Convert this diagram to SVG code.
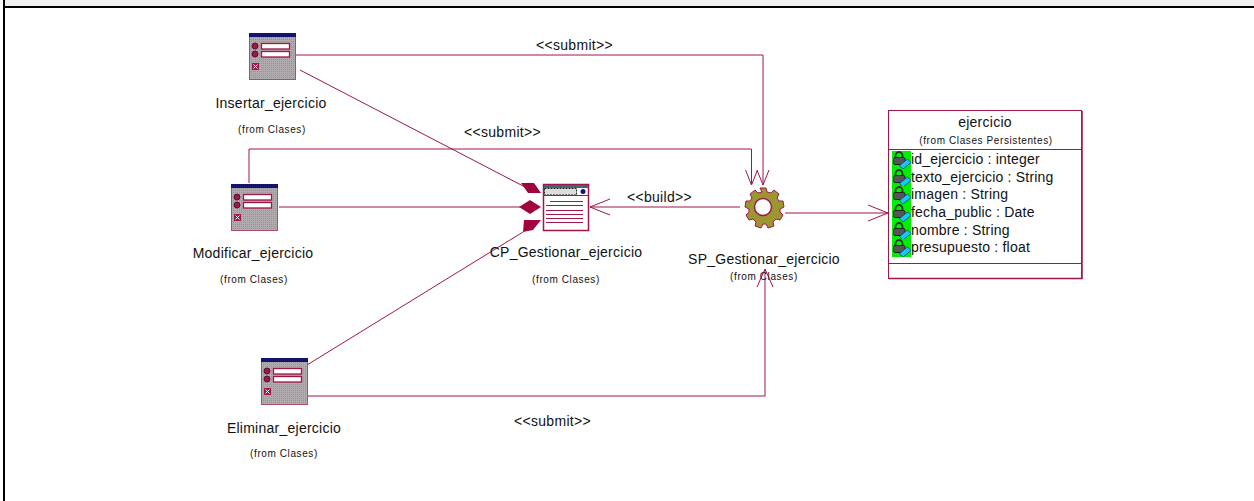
<svg xmlns="http://www.w3.org/2000/svg" width="1254" height="501" viewBox="0 0 1254 501">
<style>
text{font-family:"Liberation Sans",Arial,sans-serif;fill:#111}
.n{font-size:14px;letter-spacing:.25px;text-anchor:middle}
.f{font-size:10px;letter-spacing:.6px;text-anchor:middle}
.l{font-size:14px;letter-spacing:.3px}
.a{font-size:14px;letter-spacing:.2px}
.c{fill:none;stroke:#a0154a;stroke-width:1}
.d{fill:#a0053f;stroke:none}
.w{fill:#fff;stroke:#a0154a;stroke-width:1.300}
</style>
<defs>
<pattern id="gr" width="2" height="2" patternUnits="userSpaceOnUse"><rect width="2" height="2" fill="#b0abae"/><rect width="1" height="1" fill="#979295"/></pattern>
<g id="win">
<rect x="0.500" y="0.500" width="46" height="46" fill="url(#gr)" stroke="#b04a70"/>
<rect x="0" y="0" width="47" height="4" fill="#14146e"/>
<circle cx="6" cy="13" r="3" fill="#a0154a" stroke="#5a1030"/>
<circle cx="6" cy="21" r="3" fill="#a0154a" stroke="#5a1030"/>
<rect x="12.500" y="10.500" width="28" height="5.500" class="w"/>
<rect x="12.500" y="18.500" width="28" height="5.500" class="w"/>
<rect x="3" y="30" width="7" height="7" fill="#a0154a"/>
<path d="M4.500 31.500l4 4m0-4l-4 4" stroke="#fff" fill="none"/>
</g>
<g id="attr">
<rect x="0" y="0" width="19" height="18" fill="#00ee00"/>
<path d="M3.500 7V4.500a3.500 3.500 0 0 1 7 0V7" fill="none" stroke="#333" stroke-width="1.800"/>
<rect x="1.500" y="6.500" width="11.500" height="7" rx="1.500" fill="#555" stroke="#222"/>
<path d="M7.500 14.500l8-6.500 3.500 3.500-8 6.500z" fill="#18c8f0" stroke="#0a3f8f" stroke-width="0.800"/>
</g>
</defs>
<rect width="1254" height="501" fill="#fff"/>
<rect x="5" y="0" width="1249" height="6" fill="#f0f0f0"/>
<rect x="3" y="0" width="2" height="501" fill="#000"/>
<rect x="3" y="6" width="1251" height="2" fill="#000"/>
<g id="connectors">
<path class="c" d="M296 55H763V185"/>
<path class="c" d="M757 170L763 185 769 170"/>
<path class="c" d="M249 183V149H751.500V185"/>
<path class="c" d="M745.500 170L751.500 185 757.500 170"/>
<path class="c" d="M300 70L525 187"/>
<path class="d" d="M521 183H534L541 193H528z"/>
<path class="c" d="M279 207H520"/>
<path class="d" d="M519 207L530 200 541 207 530 214z"/>
<path class="c" d="M307 365L523 232"/>
<path class="d" d="M524 220H541L533 230 523 232z"/>
<path class="c" d="M740 207H590"/>
<path class="c" d="M610 199L590 207 610 215"/>
<path class="c" d="M785 213H888"/>
<path class="c" d="M868 205L888 213 868 221"/>
<path class="c" d="M308 396H765V269"/>
<path class="c" d="M757 287L765 269 773 287"/>
</g>
<g id="Insertar_ejercicio">
<use href="#win" x="249" y="33"/>
<text class="n" x="271" y="108">Insertar_ejercicio</text>
<text class="f" x="272" y="133">(from Clases)</text>
</g>
<g id="Modificar_ejercicio">
<use href="#win" x="231" y="184"/>
<text class="n" x="253" y="258">Modificar_ejercicio</text>
<text class="f" x="254" y="283">(from Clases)</text>
</g>
<g id="Eliminar_ejercicio">
<use href="#win" x="261" y="358"/>
<text class="n" x="284" y="433">Eliminar_ejercicio</text>
<text class="f" x="284" y="457">(from Clases)</text>
</g>
<g id="CP_Gestionar_ejercicio">
<rect x="543.500" y="184.500" width="45" height="46" fill="#fff" stroke="#a0154a" stroke-width="1.500"/>
<rect x="544" y="185" width="44" height="3" fill="#3a6a70"/>
<rect x="544.500" y="188.500" width="32" height="6.500" fill="#ddd" stroke="#222" stroke-dasharray="2 1"/>
<circle cx="583" cy="191.500" r="2.500" fill="#10108a"/>
<path d="M544 195.500H588" stroke="#a0154a"/>
<path d="M550 201.500H583M546 205.500H583M546 210.500H583M546 214.500H583M546 218.500H583M546 222.500H583" stroke="#a0154a"/>
<text class="n" x="566" y="257">CP_Gestionar_ejercicio</text>
<text class="f" x="566" y="283">(from Clases)</text>
</g>
<g id="SP_Gestionar_ejercicio">
<path d="M760 188h6l1 4 4 1 3-3 5 4-2 4 2 3 4 0 1 6-4 2 0 3 3 3-3 5-4-1-3 3 1 4-6 2-2-4-3 0-2 4-6-2 1-4-3-3-4 1-3-5 3-3 0-3-4-2 1-6 4 0 2-3-2-4 5-4 3 3 4-1z" fill="#9c9630" stroke="#a0154a"/>
<circle cx="763" cy="207" r="8.500" fill="#fff" stroke="#a0154a" stroke-width="1.500"/>
<text class="n" x="764" y="264">SP_Gestionar_ejercicio</text>
<text class="f" x="764" y="280">(from Clases)</text>
</g>
<g id="ejercicio">
<rect x="888.500" y="110.500" width="193" height="168" fill="#fff" stroke="#a0154a"/>
<path d="M888 149.500H1082M888 263.500H1082" stroke="#a0154a"/>
<path d="M889 278.500H1082V111" fill="none" stroke="#a0154a" stroke-width="1.500"/>
<text class="n" x="985" y="127">ejercicio</text>
<text class="f" x="986" y="144">(from Clases Persistentes)</text>
<use href="#attr" x="892" y="151"/>
<use href="#attr" x="892" y="169"/>
<use href="#attr" x="892" y="186"/>
<use href="#attr" x="892" y="204"/>
<use href="#attr" x="892" y="222"/>
<use href="#attr" x="892" y="239"/>
<text class="a" x="911" y="164">id_ejercicio : integer</text>
<text class="a" x="911" y="182">texto_ejercicio : String</text>
<text class="a" x="911" y="199">imagen : String</text>
<text class="a" x="911" y="217">fecha_public : Date</text>
<text class="a" x="911" y="235">nombre : String</text>
<text class="a" x="911" y="252">presupuesto : float</text>
</g>
<g id="labels">
<text class="l" x="536" y="50">&lt;&lt;submit&gt;&gt;</text>
<text class="l" x="464" y="137">&lt;&lt;submit&gt;&gt;</text>
<text class="l" x="627" y="202">&lt;&lt;build&gt;&gt;</text>
<text class="l" x="514" y="426">&lt;&lt;submit&gt;&gt;</text>
</g>
</svg>
